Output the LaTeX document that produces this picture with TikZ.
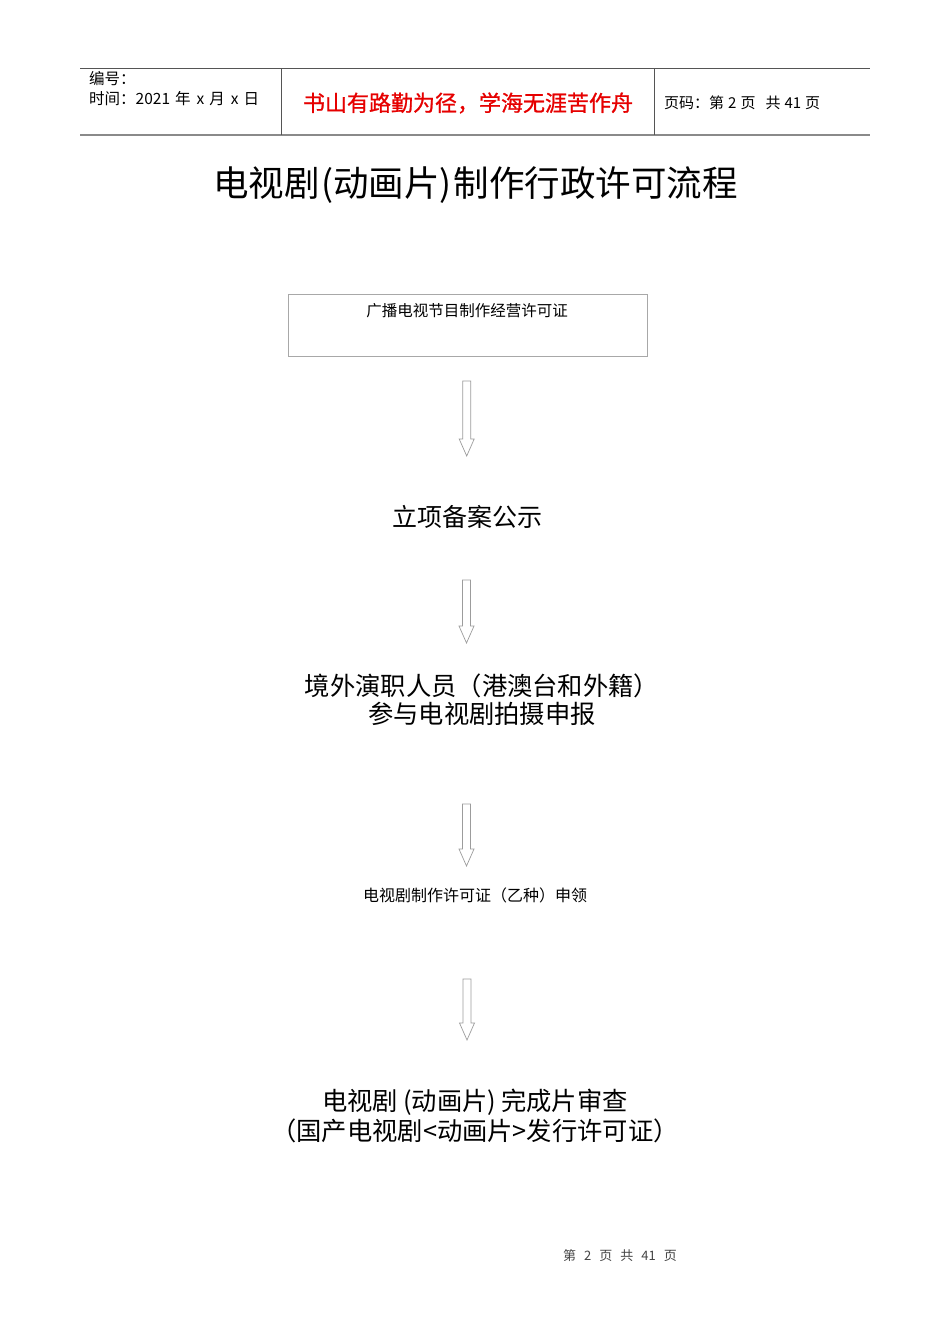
\documentclass[tikz,border=0pt]{standalone}
\usepackage{fontspec}
\setmainfont{Noto Sans CJK SC}
\usetikzlibrary{calc}
\definecolor{hdrline}{HTML}{555555}
\definecolor{hdrbot}{HTML}{8A8A8A}
\definecolor{boxline}{HTML}{A8A8A8}
\definecolor{arrline}{HTML}{9C9C9C}
\definecolor{mottored}{HTML}{E60000}
\definecolor{footgray}{HTML}{444444}
\tikzset{
  fs/.style={font=\fontsize{#1}{#1}\selectfont},
  txt/.style={inner sep=0pt, text=black},
  flowbox/.style={draw=boxline, line width=0.7pt, rectangle, inner sep=0pt},
  blockarr/.style={draw=arrline, line width=0.7pt, fill=white,
    to path={($(\tikztostart)+(-4,0)$) -- ($(\tikztotarget)+(-4,-17)$) -- ($(\tikztotarget)+(-7.5,-17)$) -- (\tikztotarget) -- ($(\tikztotarget)+(7.5,-17)$) -- ($(\tikztotarget)+(4,-17)$) -- ($(\tikztostart)+(4,0)$) -- cycle}}
}
\begin{document}
\begin{tikzpicture}[x=1pt,y=-1pt]
\useasboundingbox[fill=white] (0,0) rectangle (950,1344);
% header
\draw[hdrline, line width=0.8pt] (80,68) -- (870,68);
\draw[hdrbot, line width=1.8pt] (80,135) -- (870,135);
\draw[hdrline, line width=0.8pt] (281,68) -- (281,135);
\draw[hdrline, line width=0.8pt] (654,68) -- (654,135);
\node[txt, fs=15.5, anchor=west] (hno) at (89,79) {编号：};
\node[txt, fs=15.5, anchor=west] (hdate) at (89,99) {时间：2021\kern5pt 年\kern6pt x\kern5pt 月\kern6pt x\kern5pt 日};
\node[txt, text=mottored, font=\addfontfeature{FakeBold=1}\fontsize{22}{22}\selectfont] (motto) at (468,103) {书山有路勤为径，学海无涯苦作舟};
\node[txt, fs=15, anchor=west] (hpage) at (664,103) {页码：第\kern4pt 2\kern4pt 页\kern10pt 共\kern4pt 41\kern4pt 页};
% title
\node[txt, fs=35.5] (title) at (475.5,185) {电视剧\kern2pt(动画片)\kern2pt制作行政许可流程};
% step 1
\node[flowbox, minimum width=359, minimum height=62] (box1) at (467.5,325) {};
\node[txt, fs=15.5] (s1) at (467,311) {广播电视节目制作经营许可证};
% step 2
\node[txt, fs=25] (s2) at (467,517) {立项备案公示};
% step 3
\node[txt, fs=25.3, align=center] (s3) at (482,700) {境外演职人员（港澳台和外籍）\\[3pt]参与电视剧拍摄申报};
% step 4
\node[txt, fs=16] (s4) at (475,895) {电视剧制作许可证（乙种）申领};
% step 5
\node[txt, fs=25.3, align=center] (s5) at (475,1116) {电视剧\kern5pt(动画片)\kern5pt完成片审查\\[3pt]（国产电视剧<动画片>发行许可证）};
% arrows
\coordinate (a1s) at (466.7,381); \coordinate (a1e) at (466.7,456);
\coordinate (a2s) at (466.5,580); \coordinate (a2e) at (466.5,643);
\coordinate (a3s) at (466.5,804); \coordinate (a3e) at (466.5,866);
\coordinate (a4s) at (467,979);   \coordinate (a4e) at (467,1040);
\draw[blockarr] (a1s) to (a1e);
\draw[blockarr] (a2s) to (a2e);
\draw[blockarr] (a3s) to (a3e);
\draw[blockarr] (a4s) to (a4e);
% footer
\node[txt, fs=13, text=footgray] (foot) at (620,1256) {第\kern8pt 2\kern8pt 页\kern8pt 共\kern8pt 41\kern8pt 页};
\end{tikzpicture}
\end{document}
